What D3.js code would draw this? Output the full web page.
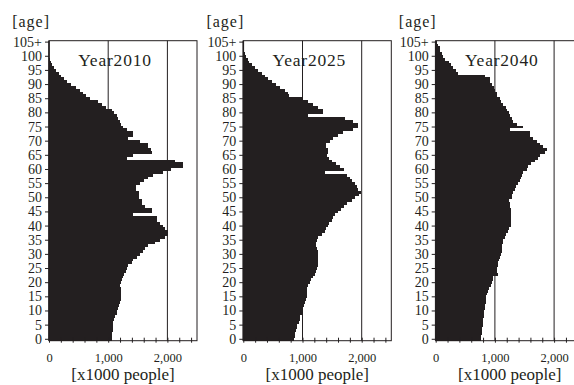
<!DOCTYPE html>
<html>
<head>
<meta charset="utf-8">
<script src="https://cdn.jsdelivr.net/npm/d3@7"></script>
<style>
  html, body { margin: 0; padding: 0; background: #fff; }
  svg { display: block; }
  text { font-family: "Liberation Serif", "Times New Roman", serif; fill: #231f20; }
</style>
</head>
<body>
<svg id="chart" width="574" height="385"></svg>
<script>
// Population by single year of age (thousands), ages 0 .. 105+
const ages = d3.range(0, 106);
const years = ["Year2010", "Year2025", "Year2040"];

const pop2010 = [
  1057, 1060, 1070, 1074, 1074, 1074, 1080, 1090, 1113, 1141,
  1152, 1169, 1190, 1200, 1210, 1215, 1215, 1220, 1215, 1205,
  1208, 1225, 1242, 1265, 1300, 1320, 1340, 1395, 1420, 1480,
  1535, 1580, 1620, 1675, 1790, 1872, 1956, 2013, 2013, 1956,
  1928, 1872, 1816, 1816, 1422, 1748, 1748, 1620, 1563, 1563,
  1520, 1520, 1520, 1478, 1478, 1535, 1602, 1675, 1760, 1928,
  2069, 2260, 2260, 2125, 1320, 1422, 1735, 1720, 1675, 1675,
  1540, 1340, 1411, 1411, 1310, 1250, 1210, 1197, 1170, 1141,
  1100, 1057, 970, 900, 830, 700, 630, 575, 520, 450,
  370, 300, 250, 210, 170, 118, 80, 50, 32, 20,
  8, 4, 2, 1, 1, 1
];

const pop2025 = [
  856, 865, 880, 890, 900, 912, 935, 957, 965, 985,
  995, 1013, 1020, 1042, 1055, 1070, 1070, 1070, 1081, 1100,
  1126, 1150, 1182, 1210, 1227, 1240, 1267, 1267, 1267, 1267,
  1267, 1260, 1250, 1227, 1227, 1250, 1267, 1323, 1380, 1400,
  1436, 1450, 1492, 1520, 1548, 1600, 1650, 1700, 1760, 1830,
  1886, 1954, 1982, 1942, 1920, 1886, 1830, 1802, 1745, 1380,
  1700, 1640, 1560, 1500, 1440, 1407, 1436, 1436, 1396, 1396,
  1464, 1520, 1605, 1690, 1860, 1940, 1940, 1860, 1720, 1100,
  1340, 1340, 1270, 1180, 1100, 990, 770, 760, 700, 620,
  550, 480, 420, 370, 310, 250, 190, 140, 100, 75,
  50, 30, 18, 12, 8, 5
];

const pop2040 = [
  765, 770, 780, 787, 787, 795, 800, 804, 810, 815,
  820, 825, 830, 843, 843, 855, 865, 880, 895, 930,
  944, 960, 972, 1045, 1035, 1028, 1045, 1057, 1075, 1090,
  1110, 1120, 1124, 1124, 1130, 1145, 1169, 1180, 1225, 1235,
  1265, 1270, 1272, 1272, 1270, 1270, 1265, 1253, 1250, 1236,
  1281, 1285, 1309, 1340, 1355, 1394, 1422, 1440, 1455, 1478,
  1534, 1562, 1618, 1680, 1720, 1759, 1843, 1888, 1815, 1759,
  1703, 1640, 1600, 1590, 1253, 1478, 1366, 1309, 1290, 1253,
  1240, 1197, 1180, 1141, 1100, 1085, 1040, 1028, 1000, 990,
  944, 920, 910, 832, 371, 350, 298, 250, 230, 157,
  125, 105, 80, 65, 40, 25
];

const xTickValues = d3.range(0, 2401, 200);
const xLabelValues = [0, 1000, 2000];
const gridValues = [1000, 2000];
const yTickValues = d3.range(0, 106, 5);

const series = [pop2010, pop2025, pop2040];

// Layout
const panelLeft = [49, 243.3, 435.7];
const plotTop = 40.7, plotBottom = 340.7, plotWidth = 148;
const xMax = 2500;
const ink = "#231f20";

const svg = d3.select("#chart");
const y = d3.scaleBand().domain(ages).range([plotBottom, plotTop]).padding(0);
const fmt = d3.format(",");

series.forEach((vals, i) => {
  const x = d3.scaleLinear().domain([0, xMax]).range([panelLeft[i], panelLeft[i] + plotWidth]);
  const g = svg.append("g");

  // Reference lines at 1,000 and 2,000
  g.selectAll("line.grid").data(gridValues).join("line")
    .attr("class", "grid")
    .attr("x1", d => x(d)).attr("x2", d => x(d))
    .attr("y1", plotTop).attr("y2", plotBottom)
    .attr("stroke", ink).attr("stroke-width", 1);

  // One bar per year of age
  g.selectAll("rect.bar").data(ages).join("rect")
    .attr("class", "bar")
    .attr("x", x(0))
    .attr("y", a => y(a))
    .attr("width", a => x(vals[a]) - x(0))
    .attr("height", y.bandwidth())
    .attr("fill", ink)
    .attr("shape-rendering", "crispEdges");

  // Plot frame
  g.append("rect")
    .attr("x", x(0)).attr("y", plotTop)
    .attr("width", x(xMax) - x(0)).attr("height", plotBottom - plotTop)
    .attr("fill", "none").attr("stroke", ink).attr("stroke-width", 1);
  g.append("line")
    .attr("x1", x(0)).attr("x2", x(0)).attr("y1", plotTop).attr("y2", plotBottom)
    .attr("stroke", ink).attr("stroke-width", 1.6);

  // Age axis
  const yAxis = g.append("g")
    .attr("transform", `translate(${x(0)},0)`)
    .call(d3.axisLeft(y).tickValues(yTickValues)
      .tickFormat(d => d === 105 ? "105+" : d)
      .tickSize(4).tickPadding(3));
  yAxis.select(".domain").remove();
  yAxis.selectAll("line").attr("stroke", ink);
  yAxis.selectAll("text")
    .style("font-family", '"Liberation Serif", serif')
    .style("font-size", "14px").attr("fill", ink);

  // Population axis
  const xAxis = g.append("g")
    .attr("transform", `translate(0,${plotBottom})`)
    .call(d3.axisBottom(x).tickValues(xTickValues)
      .tickFormat(d => xLabelValues.includes(d) ? fmt(d) : "")
      .tickSize(3).tickPadding(9.5));
  xAxis.select(".domain").remove();
  xAxis.selectAll(".tick line").attr("y1", -3).attr("y2", 2).attr("stroke", ink);
  xAxis.selectAll("text")
    .style("font-family", '"Liberation Serif", serif')
    .style("font-size", "12.5px").attr("fill", ink);

  // Titles and unit labels
  g.append("text")
    .attr("x", x(1115)).attr("y", 65.5)
    .attr("text-anchor", "middle")
    .style("font-size", "17.5px").style("letter-spacing", "0.8px")
    .text(years[i]);

  g.append("text")
    .attr("x", x(0) + 1).attr("y", 27)
    .attr("text-anchor", "end")
    .style("font-size", "16px").style("letter-spacing", "1px")
    .text("[age]");

  g.append("text")
    .attr("x", x(1250)).attr("y", 380)
    .attr("text-anchor", "middle")
    .style("font-size", "17px")
    .text("[x1000 people]");
});
</script>
</body>
</html>
